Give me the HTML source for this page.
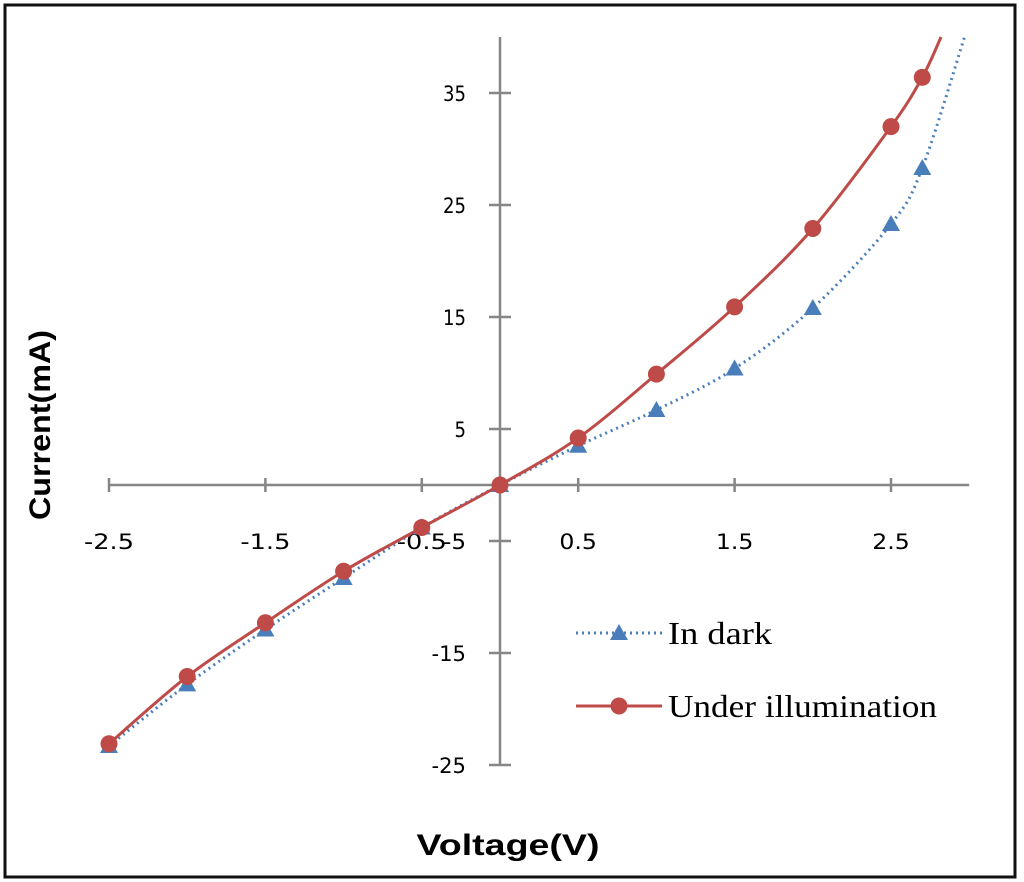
<!DOCTYPE html>
<html><head><meta charset="utf-8"><style>
body{margin:0;background:#fff}
svg{display:block}
.t{font-family:"DejaVu Sans","Liberation Sans",sans-serif;font-size:21px;fill:#000}
</style></head><body>
<svg id="c" width="1024" height="882" viewBox="0 0 1024 882" xmlns="http://www.w3.org/2000/svg">
<rect x="5" y="5" width="1010" height="872" fill="#fff" stroke="#111" stroke-width="3"/>
<g id="axes"></g><g id="series"></g>
<text x="50" y="425" transform="rotate(-90 50 425)" text-anchor="middle" font-family="Liberation Sans, sans-serif" font-weight="bold" font-size="30" textLength="190" lengthAdjust="spacingAndGlyphs">Current(mA)</text>
<text x="508" y="855" text-anchor="middle" font-family="Liberation Sans, sans-serif" font-weight="bold" font-size="30" textLength="183" lengthAdjust="spacingAndGlyphs">Voltage(V)</text>
<g>
<g>
<line x1="576" y1="633" x2="662" y2="633" stroke="#4a7ebb" stroke-width="3" stroke-dasharray="2,4"/>
<polygon points="619,624 628,640 610,640" fill="#4a7ebb"/>
<text x="668" y="644" font-family="Liberation Serif, serif" font-size="32" textLength="104" lengthAdjust="spacingAndGlyphs">In dark</text></g>
<g>
<line x1="576" y1="706" x2="662" y2="706" stroke="#be4b48" stroke-width="3"/>
<circle cx="619" cy="706" r="8.5" fill="#be4b48"/>
<text x="668" y="717" font-family="Liberation Serif, serif" font-size="32" textLength="269" lengthAdjust="spacingAndGlyphs">Under illumination</text></g>
</g>
</svg>
<script>
const xTicks=[-2.5,-1.5,-0.5,0.5,1.5,2.5];
const yTicks=[-25,-15,-5,5,15,25,35];
const volts=[-2.5,-2,-1.5,-1,-0.5,0,0.5,1,1.5,2,2.5,2.7];
const darkI=[-23.3,-17.8,-12.9,-8.3,-3.8,0,3.5,6.7,10.4,15.8,23.3,28.3];
const lightI=[-23.1,-17.1,-12.3,-7.7,-3.8,0,4.2,9.9,15.9,22.9,32.0,36.4];
const darkTail=[2.97,40], lightTail=[2.82,40];
const X=v=>500+v*156.4, Y=i=>485-i*11.2;
const NS="http://www.w3.org/2000/svg";
function mk(t,a,p){const e=document.createElementNS(NS,t);for(const k in a)e.setAttribute(k,a[k]);p.appendChild(e);return e;}
const ax=document.getElementById('axes'), se=document.getElementById('series');
let l=mk('line',{x1:X(-2.5),y1:Y(0),x2:X(3),y2:Y(0),stroke:'#868686','stroke-width':2.5},ax);


l=mk('line',{x1:X(0),y1:Y(40),x2:X(0),y2:Y(-25),stroke:'#868686','stroke-width':2.5},ax);


xTicks.forEach(v=>{mk('line',{x1:X(v),y1:Y(0)-7,x2:X(v),y2:Y(0)+7,stroke:'#868686','stroke-width':2.5},ax);
const s=String(v);
const t=mk('text',{x:X(v),y:Y(0)+64,'text-anchor':'middle',class:'t',textLength:s.length*12.5,lengthAdjust:'spacingAndGlyphs'},ax);t.textContent=s;

});
yTicks.forEach(v=>{mk('line',{x1:X(0)-11,y1:Y(v),x2:X(0)+11,y2:Y(v),stroke:'#868686','stroke-width':2.5},ax);
const s=String(v);
const t=mk('text',{x:466,y:Y(v)+8,'text-anchor':'end',class:'t',textLength:s.length*11.5,lengthAdjust:'spacingAndGlyphs'},ax);t.textContent=s;

});
function path(pts){let d='M'+pts[0][0]+','+pts[0][1];
for(let i=0;i<pts.length-1;i++){const p0=pts[i-1]||pts[i],p1=pts[i],p2=pts[i+1],p3=pts[i+2]||p2;
d+=' C'+(p1[0]+(p2[0]-p0[0])/6)+','+(p1[1]+(p2[1]-p0[1])/6)+' '+(p2[0]-(p3[0]-p1[0])/6)+','+(p2[1]-(p3[1]-p1[1])/6)+' '+p2[0]+','+p2[1];}return d;}
function draw(vals,tail,color,dash,marker,name){
const pts=volts.map((v,i)=>[X(v),Y(vals[i])]);pts.push([X(tail[0]),Y(tail[1])]);
const p=mk('path',{d:path(pts),fill:'none',stroke:color,'stroke-width':3,'stroke-dasharray':dash},se);


volts.forEach((v,i)=>{const x=X(v),y=Y(vals[i]);let m;
if(marker==='tri')m=mk('polygon',{points:`${x},${y-9} ${x+9},${y+7} ${x-9},${y+7}`,fill:color},se);
else m=mk('circle',{cx:x,cy:y,r:8.5,fill:color},se);

});}
draw(darkI,darkTail,'#4a7ebb','2,4','tri','dark');
draw(lightI,lightTail,'#be4b48','none','circ','illumination');
</script>
</body></html>
